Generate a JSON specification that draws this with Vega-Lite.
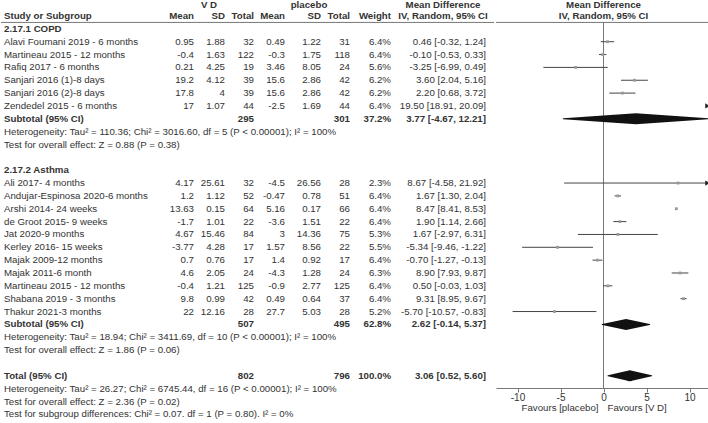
{
  "$schema": "https://vega.github.io/schema/vega-lite/v6.json",
  "padding": 0,
  "spacing": 0,
  "background": "white",
  "config": {
    "view": {"stroke": null},
    "text": {"font": "Liberation Sans", "fontSize": 9.7, "color": "#333"}
  },
  "datasets": {
    "rows": [
      {"r": 2, "study": "Alavi Foumani 2019 - 6 months", "m1": 0.95, "sd1": 1.88, "n1": 32, "m2": 0.49, "sd2": 1.22, "n2": 31, "w": "6.4%", "md": "0.46 [-0.32, 1.24]", "est": 0.46, "lo": -0.32, "hi": 1.24},
      {"r": 3, "study": "Martineau 2015 - 12 months", "m1": -0.4, "sd1": 1.63, "n1": 122, "m2": -0.3, "sd2": 1.75, "n2": 118, "w": "6.4%", "md": "-0.10 [-0.53, 0.33]", "est": -0.1, "lo": -0.53, "hi": 0.33},
      {"r": 4, "study": "Rafiq 2017 - 6 months", "m1": 0.21, "sd1": 4.25, "n1": 19, "m2": 3.46, "sd2": 8.05, "n2": 24, "w": "5.6%", "md": "-3.25 [-6.99, 0.49]", "est": -3.25, "lo": -6.99, "hi": 0.49},
      {"r": 5, "study": "Sanjari 2016 (1)-8 days", "m1": 19.2, "sd1": 4.12, "n1": 39, "m2": 15.6, "sd2": 2.86, "n2": 42, "w": "6.2%", "md": "3.60 [2.04, 5.16]", "est": 3.6, "lo": 2.04, "hi": 5.16},
      {"r": 6, "study": "Sanjari 2016 (2)-8 days", "m1": 17.8, "sd1": 4, "n1": 39, "m2": 15.6, "sd2": 2.86, "n2": 42, "w": "6.2%", "md": "2.20 [0.68, 3.72]", "est": 2.2, "lo": 0.68, "hi": 3.72},
      {"r": 7, "study": "Zendedel 2015 - 6 months", "m1": 17, "sd1": 1.07, "n1": 44, "m2": -2.5, "sd2": 1.69, "n2": 44, "w": "6.4%", "md": "19.50 [18.91, 20.09]", "est": 19.5, "lo": 18.91, "hi": 20.09},
      {"r": 13, "study": "Ali 2017- 4 months", "m1": 4.17, "sd1": 25.61, "n1": 32, "m2": -4.5, "sd2": 26.56, "n2": 28, "w": "2.3%", "md": "8.67 [-4.58, 21.92]", "est": 8.67, "lo": -4.58, "hi": 21.92},
      {"r": 14, "study": "Andujar-Espinosa 2020-6 months", "m1": 1.2, "sd1": 1.12, "n1": 52, "m2": -0.47, "sd2": 0.78, "n2": 51, "w": "6.4%", "md": "1.67 [1.30, 2.04]", "est": 1.67, "lo": 1.3, "hi": 2.04},
      {"r": 15, "study": "Arshi 2014- 24 weeks", "m1": 13.63, "sd1": 0.15, "n1": 64, "m2": 5.16, "sd2": 0.17, "n2": 66, "w": "6.4%", "md": "8.47 [8.41, 8.53]", "est": 8.47, "lo": 8.41, "hi": 8.53},
      {"r": 16, "study": "de Groot 2015- 9 weeks", "m1": -1.7, "sd1": 1.01, "n1": 22, "m2": -3.6, "sd2": 1.51, "n2": 22, "w": "6.4%", "md": "1.90 [1.14, 2.66]", "est": 1.9, "lo": 1.14, "hi": 2.66},
      {"r": 17, "study": "Jat 2020-9 months", "m1": 4.67, "sd1": 15.46, "n1": 84, "m2": 3, "sd2": 14.36, "n2": 75, "w": "5.3%", "md": "1.67 [-2.97, 6.31]", "est": 1.67, "lo": -2.97, "hi": 6.31},
      {"r": 18, "study": "Kerley 2016- 15 weeks", "m1": -3.77, "sd1": 4.28, "n1": 17, "m2": 1.57, "sd2": 8.56, "n2": 22, "w": "5.5%", "md": "-5.34 [-9.46, -1.22]", "est": -5.34, "lo": -9.46, "hi": -1.22},
      {"r": 19, "study": "Majak 2009-12 months", "m1": 0.7, "sd1": 0.76, "n1": 17, "m2": 1.4, "sd2": 0.92, "n2": 17, "w": "6.4%", "md": "-0.70 [-1.27, -0.13]", "est": -0.7, "lo": -1.27, "hi": -0.13},
      {"r": 20, "study": "Majak 2011-6 month", "m1": 4.6, "sd1": 2.05, "n1": 24, "m2": -4.3, "sd2": 1.28, "n2": 24, "w": "6.3%", "md": "8.90 [7.93, 9.87]", "est": 8.9, "lo": 7.93, "hi": 9.87},
      {"r": 21, "study": "Martineau 2015 - 12 months", "m1": -0.4, "sd1": 1.21, "n1": 125, "m2": -0.9, "sd2": 2.77, "n2": 125, "w": "6.4%", "md": "0.50 [-0.03, 1.03]", "est": 0.5, "lo": -0.03, "hi": 1.03},
      {"r": 22, "study": "Shabana 2019 - 3 months", "m1": 9.8, "sd1": 0.99, "n1": 42, "m2": 0.49, "sd2": 0.64, "n2": 37, "w": "6.4%", "md": "9.31 [8.95, 9.67]", "est": 9.31, "lo": 8.95, "hi": 9.67},
      {"r": 23, "study": "Thakur 2021-3 months", "m1": 22, "sd1": 12.16, "n1": 28, "m2": 27.7, "sd2": 5.03, "n2": 28, "w": "5.2%", "md": "-5.70 [-10.57, -0.83]", "est": -5.7, "lo": -10.57, "hi": -0.83}
    ],
    "totals": [
      {"r": 8, "label": "Subtotal (95% CI)", "n1": 295, "n2": 301, "w": "37.2%", "md": "3.77 [-4.67, 12.21]", "est": 3.77, "lo": -4.67, "hi": 12.21},
      {"r": 24, "label": "Subtotal (95% CI)", "n1": 507, "n2": 495, "w": "62.8%", "md": "2.62 [-0.14, 5.37]", "est": 2.62, "lo": -0.14, "hi": 5.37},
      {"r": 28, "label": "Total (95% CI)", "n1": 802, "n2": 796, "w": "100.0%", "md": "3.06 [0.52, 5.60]", "est": 3.06, "lo": 0.52, "hi": 5.6}
    ],
    "notes": [
      {"r": 9, "text": "Heterogeneity: Tau² = 110.36; Chi² = 3016.60, df = 5 (P < 0.00001); I² = 100%"},
      {"r": 10, "text": "Test for overall effect: Z = 0.88 (P = 0.38)"},
      {"r": 25, "text": "Heterogeneity: Tau² = 18.94; Chi² = 3411.69, df = 10 (P < 0.00001); I² = 100%"},
      {"r": 26, "text": "Test for overall effect: Z = 1.86 (P = 0.06)"},
      {"r": 29, "text": "Heterogeneity: Tau² = 26.27; Chi² = 6745.44, df = 16 (P < 0.00001); I² = 100%"},
      {"r": 30, "text": "Test for overall effect: Z = 2.36 (P = 0.02)"},
      {"r": 31, "text": "Test for subgroup differences: Chi² = 0.07. df = 1 (P = 0.80). I² = 0%"}
    ],
    "groups": [
      {"r": 1, "text": "2.17.1 COPD"},
      {"r": 12, "text": "2.17.2 Asthma"}
    ]
  },
  "hconcat": [
    {
      "width": 493,
      "height": 423,
      "layer": [
        {"data": {"values": [{}]}, "mark": {"type": "rule", "color": "#777", "strokeWidth": 1},
         "encoding": {"x": {"datum": 0, "type": "quantitative", "scale": {"domain": [0, 493], "nice": false, "zero": false}, "axis": null},
                      "x2": {"datum": 493},
                      "y": {"datum": 0.5, "type": "quantitative", "scale": {"domain": [-1.245, 31.67], "reverse": true, "nice": false, "zero": false}, "axis": null}}},
        {"data": {"values": [{"t": "V D"}]}, "mark": {"type": "text", "align": "center", "fontWeight": "bold"},
         "encoding": {"x": {"datum": 208, "type": "quantitative", "scale": {"domain": [0, 493], "nice": false, "zero": false}, "axis": null},
                      "y": {"datum": -0.85, "type": "quantitative", "scale": {"domain": [-1.245, 31.67], "reverse": true, "nice": false, "zero": false}, "axis": null},
                      "text": {"field": "t", "type": "nominal"}}},
        {"data": {"values": [{"t": "placebo"}]}, "mark": {"type": "text", "align": "center", "fontWeight": "bold"},
         "encoding": {"x": {"datum": 308, "type": "quantitative", "scale": {"domain": [0, 493], "nice": false, "zero": false}, "axis": null},
                      "y": {"datum": -0.85, "type": "quantitative", "scale": {"domain": [-1.245, 31.67], "reverse": true, "nice": false, "zero": false}, "axis": null},
                      "text": {"field": "t", "type": "nominal"}}},
        {"data": {"values": [{"t": "Mean Difference"}]}, "mark": {"type": "text", "align": "center", "fontWeight": "bold"},
         "encoding": {"x": {"datum": 442, "type": "quantitative", "scale": {"domain": [0, 493], "nice": false, "zero": false}, "axis": null},
                      "y": {"datum": -0.85, "type": "quantitative", "scale": {"domain": [-1.245, 31.67], "reverse": true, "nice": false, "zero": false}, "axis": null},
                      "text": {"field": "t", "type": "nominal"}}},
        {"data": {"values": [{"t": "Study or Subgroup"}]}, "mark": {"type": "text", "align": "left", "fontWeight": "bold"},
         "encoding": {"x": {"datum": 3, "type": "quantitative", "scale": {"domain": [0, 493], "nice": false, "zero": false}, "axis": null},
                      "y": {"datum": 0, "type": "quantitative", "scale": {"domain": [-1.245, 31.67], "reverse": true, "nice": false, "zero": false}, "axis": null},
                      "text": {"field": "t", "type": "nominal"}}},
        {"data": {"values": [{"t": "Mean"}]}, "mark": {"type": "text", "align": "right", "fontWeight": "bold"},
         "encoding": {"x": {"datum": 193, "type": "quantitative", "scale": {"domain": [0, 493], "nice": false, "zero": false}, "axis": null},
                      "y": {"datum": 0, "type": "quantitative", "scale": {"domain": [-1.245, 31.67], "reverse": true, "nice": false, "zero": false}, "axis": null},
                      "text": {"field": "t", "type": "nominal"}}},
        {"data": {"values": [{"t": "SD"}]}, "mark": {"type": "text", "align": "right", "fontWeight": "bold"},
         "encoding": {"x": {"datum": 224, "type": "quantitative", "scale": {"domain": [0, 493], "nice": false, "zero": false}, "axis": null},
                      "y": {"datum": 0, "type": "quantitative", "scale": {"domain": [-1.245, 31.67], "reverse": true, "nice": false, "zero": false}, "axis": null},
                      "text": {"field": "t", "type": "nominal"}}},
        {"data": {"values": [{"t": "Total"}]}, "mark": {"type": "text", "align": "right", "fontWeight": "bold"},
         "encoding": {"x": {"datum": 253, "type": "quantitative", "scale": {"domain": [0, 493], "nice": false, "zero": false}, "axis": null},
                      "y": {"datum": 0, "type": "quantitative", "scale": {"domain": [-1.245, 31.67], "reverse": true, "nice": false, "zero": false}, "axis": null},
                      "text": {"field": "t", "type": "nominal"}}},
        {"data": {"values": [{"t": "Mean"}]}, "mark": {"type": "text", "align": "right", "fontWeight": "bold"},
         "encoding": {"x": {"datum": 284, "type": "quantitative", "scale": {"domain": [0, 493], "nice": false, "zero": false}, "axis": null},
                      "y": {"datum": 0, "type": "quantitative", "scale": {"domain": [-1.245, 31.67], "reverse": true, "nice": false, "zero": false}, "axis": null},
                      "text": {"field": "t", "type": "nominal"}}},
        {"data": {"values": [{"t": "SD"}]}, "mark": {"type": "text", "align": "right", "fontWeight": "bold"},
         "encoding": {"x": {"datum": 320, "type": "quantitative", "scale": {"domain": [0, 493], "nice": false, "zero": false}, "axis": null},
                      "y": {"datum": 0, "type": "quantitative", "scale": {"domain": [-1.245, 31.67], "reverse": true, "nice": false, "zero": false}, "axis": null},
                      "text": {"field": "t", "type": "nominal"}}},
        {"data": {"values": [{"t": "Total"}]}, "mark": {"type": "text", "align": "right", "fontWeight": "bold"},
         "encoding": {"x": {"datum": 349, "type": "quantitative", "scale": {"domain": [0, 493], "nice": false, "zero": false}, "axis": null},
                      "y": {"datum": 0, "type": "quantitative", "scale": {"domain": [-1.245, 31.67], "reverse": true, "nice": false, "zero": false}, "axis": null},
                      "text": {"field": "t", "type": "nominal"}}},
        {"data": {"values": [{"t": "Weight"}]}, "mark": {"type": "text", "align": "right", "fontWeight": "bold"},
         "encoding": {"x": {"datum": 390, "type": "quantitative", "scale": {"domain": [0, 493], "nice": false, "zero": false}, "axis": null},
                      "y": {"datum": 0, "type": "quantitative", "scale": {"domain": [-1.245, 31.67], "reverse": true, "nice": false, "zero": false}, "axis": null},
                      "text": {"field": "t", "type": "nominal"}}},
        {"data": {"values": [{"t": "IV, Random, 95% CI"}]}, "mark": {"type": "text", "align": "center", "fontWeight": "bold"},
         "encoding": {"x": {"datum": 442, "type": "quantitative", "scale": {"domain": [0, 493], "nice": false, "zero": false}, "axis": null},
                      "y": {"datum": 0, "type": "quantitative", "scale": {"domain": [-1.245, 31.67], "reverse": true, "nice": false, "zero": false}, "axis": null},
                      "text": {"field": "t", "type": "nominal"}}},
        {"data": {"name": "groups"}, "mark": {"type": "text", "align": "left", "fontWeight": "bold"},
         "encoding": {"x": {"datum": 3, "type": "quantitative", "scale": {"domain": [0, 493], "nice": false, "zero": false}, "axis": null},
                      "y": {"field": "r", "type": "quantitative", "scale": {"domain": [-1.245, 31.67], "reverse": true, "nice": false, "zero": false}, "axis": null},
                      "text": {"field": "text", "type": "nominal"}}},
        {"data": {"name": "notes"}, "mark": {"type": "text", "align": "left"},
         "encoding": {"x": {"datum": 3, "type": "quantitative", "scale": {"domain": [0, 493], "nice": false, "zero": false}, "axis": null},
                      "y": {"field": "r", "type": "quantitative", "scale": {"domain": [-1.245, 31.67], "reverse": true, "nice": false, "zero": false}, "axis": null},
                      "text": {"field": "text", "type": "nominal"}}},
        {"data": {"name": "rows"}, "mark": {"type": "text", "align": "left"},
         "encoding": {"x": {"datum": 3, "type": "quantitative", "scale": {"domain": [0, 493], "nice": false, "zero": false}, "axis": null},
                      "y": {"field": "r", "type": "quantitative", "scale": {"domain": [-1.245, 31.67], "reverse": true, "nice": false, "zero": false}, "axis": null},
                      "text": {"field": "study", "type": "nominal"}}},
        {"data": {"name": "rows"}, "mark": {"type": "text", "align": "right"},
         "encoding": {"x": {"datum": 193, "type": "quantitative", "scale": {"domain": [0, 493], "nice": false, "zero": false}, "axis": null},
                      "y": {"field": "r", "type": "quantitative", "scale": {"domain": [-1.245, 31.67], "reverse": true, "nice": false, "zero": false}, "axis": null},
                      "text": {"field": "m1", "type": "nominal"}}},
        {"data": {"name": "rows"}, "mark": {"type": "text", "align": "right"},
         "encoding": {"x": {"datum": 224, "type": "quantitative", "scale": {"domain": [0, 493], "nice": false, "zero": false}, "axis": null},
                      "y": {"field": "r", "type": "quantitative", "scale": {"domain": [-1.245, 31.67], "reverse": true, "nice": false, "zero": false}, "axis": null},
                      "text": {"field": "sd1", "type": "nominal"}}},
        {"data": {"name": "rows"}, "mark": {"type": "text", "align": "right"},
         "encoding": {"x": {"datum": 253, "type": "quantitative", "scale": {"domain": [0, 493], "nice": false, "zero": false}, "axis": null},
                      "y": {"field": "r", "type": "quantitative", "scale": {"domain": [-1.245, 31.67], "reverse": true, "nice": false, "zero": false}, "axis": null},
                      "text": {"field": "n1", "type": "nominal"}}},
        {"data": {"name": "rows"}, "mark": {"type": "text", "align": "right"},
         "encoding": {"x": {"datum": 284, "type": "quantitative", "scale": {"domain": [0, 493], "nice": false, "zero": false}, "axis": null},
                      "y": {"field": "r", "type": "quantitative", "scale": {"domain": [-1.245, 31.67], "reverse": true, "nice": false, "zero": false}, "axis": null},
                      "text": {"field": "m2", "type": "nominal"}}},
        {"data": {"name": "rows"}, "mark": {"type": "text", "align": "right"},
         "encoding": {"x": {"datum": 320, "type": "quantitative", "scale": {"domain": [0, 493], "nice": false, "zero": false}, "axis": null},
                      "y": {"field": "r", "type": "quantitative", "scale": {"domain": [-1.245, 31.67], "reverse": true, "nice": false, "zero": false}, "axis": null},
                      "text": {"field": "sd2", "type": "nominal"}}},
        {"data": {"name": "rows"}, "mark": {"type": "text", "align": "right"},
         "encoding": {"x": {"datum": 349, "type": "quantitative", "scale": {"domain": [0, 493], "nice": false, "zero": false}, "axis": null},
                      "y": {"field": "r", "type": "quantitative", "scale": {"domain": [-1.245, 31.67], "reverse": true, "nice": false, "zero": false}, "axis": null},
                      "text": {"field": "n2", "type": "nominal"}}},
        {"data": {"name": "rows"}, "mark": {"type": "text", "align": "right"},
         "encoding": {"x": {"datum": 390, "type": "quantitative", "scale": {"domain": [0, 493], "nice": false, "zero": false}, "axis": null},
                      "y": {"field": "r", "type": "quantitative", "scale": {"domain": [-1.245, 31.67], "reverse": true, "nice": false, "zero": false}, "axis": null},
                      "text": {"field": "w", "type": "nominal"}}},
        {"data": {"name": "rows"}, "mark": {"type": "text", "align": "right"},
         "encoding": {"x": {"datum": 485, "type": "quantitative", "scale": {"domain": [0, 493], "nice": false, "zero": false}, "axis": null},
                      "y": {"field": "r", "type": "quantitative", "scale": {"domain": [-1.245, 31.67], "reverse": true, "nice": false, "zero": false}, "axis": null},
                      "text": {"field": "md", "type": "nominal"}}},
        {"data": {"name": "totals"}, "mark": {"type": "text", "align": "left", "fontWeight": "bold"},
         "encoding": {"x": {"datum": 3, "type": "quantitative", "scale": {"domain": [0, 493], "nice": false, "zero": false}, "axis": null},
                      "y": {"field": "r", "type": "quantitative", "scale": {"domain": [-1.245, 31.67], "reverse": true, "nice": false, "zero": false}, "axis": null},
                      "text": {"field": "label", "type": "nominal"}}},
        {"data": {"name": "totals"}, "mark": {"type": "text", "align": "right", "fontWeight": "bold"},
         "encoding": {"x": {"datum": 253, "type": "quantitative", "scale": {"domain": [0, 493], "nice": false, "zero": false}, "axis": null},
                      "y": {"field": "r", "type": "quantitative", "scale": {"domain": [-1.245, 31.67], "reverse": true, "nice": false, "zero": false}, "axis": null},
                      "text": {"field": "n1", "type": "nominal"}}},
        {"data": {"name": "totals"}, "mark": {"type": "text", "align": "right", "fontWeight": "bold"},
         "encoding": {"x": {"datum": 349, "type": "quantitative", "scale": {"domain": [0, 493], "nice": false, "zero": false}, "axis": null},
                      "y": {"field": "r", "type": "quantitative", "scale": {"domain": [-1.245, 31.67], "reverse": true, "nice": false, "zero": false}, "axis": null},
                      "text": {"field": "n2", "type": "nominal"}}},
        {"data": {"name": "totals"}, "mark": {"type": "text", "align": "right", "fontWeight": "bold"},
         "encoding": {"x": {"datum": 390, "type": "quantitative", "scale": {"domain": [0, 493], "nice": false, "zero": false}, "axis": null},
                      "y": {"field": "r", "type": "quantitative", "scale": {"domain": [-1.245, 31.67], "reverse": true, "nice": false, "zero": false}, "axis": null},
                      "text": {"field": "w", "type": "nominal"}}},
        {"data": {"name": "totals"}, "mark": {"type": "text", "align": "right", "fontWeight": "bold"},
         "encoding": {"x": {"datum": 485, "type": "quantitative", "scale": {"domain": [0, 493], "nice": false, "zero": false}, "axis": null},
                      "y": {"field": "r", "type": "quantitative", "scale": {"domain": [-1.245, 31.67], "reverse": true, "nice": false, "zero": false}, "axis": null},
                      "text": {"field": "md", "type": "nominal"}}}
      ]
    },
    {
      "width": 215,
      "height": 388,
      "layer": [
        {"data": {"values": [{}]}, "mark": {"type": "rule", "color": "#777", "strokeWidth": 1},
         "encoding": {"x": {"datum": -12.5, "type": "quantitative", "scale": {"domain": [-12.5, 12.5], "nice": false, "zero": false},
                            "axis": {"values": [-10, -5, 0, 5, 10], "title": null, "grid": false, "tickSize": 4, "labelExpr": "'' + datum.value", "domainColor": "#777", "tickColor": "#777", "labelColor": "#333", "labelFont": "Liberation Sans", "labelFontSize": 10, "labelPadding": 0}},
                      "x2": {"datum": 12.5},
                      "y": {"datum": 0.5, "type": "quantitative", "scale": {"domain": [-1.245, 28.95], "reverse": true, "nice": false, "zero": false}, "axis": null}}},
        {"data": {"values": [{}]}, "mark": {"type": "rule", "color": "#777", "strokeWidth": 1},
         "encoding": {"x": {"datum": 0, "type": "quantitative", "scale": {"domain": [-12.5, 12.5], "nice": false, "zero": false},
                            "axis": {"values": [-10, -5, 0, 5, 10], "title": null, "grid": false, "tickSize": 4, "labelExpr": "'' + datum.value", "domainColor": "#777", "tickColor": "#777", "labelColor": "#333", "labelFont": "Liberation Sans", "labelFontSize": 10, "labelPadding": 0}},
                      "y": {"datum": 0.5, "type": "quantitative", "scale": {"domain": [-1.245, 28.95], "reverse": true, "nice": false, "zero": false}, "axis": null},
                      "y2": {"datum": 28.95}}},
        {"data": {"values": [{"t": "Mean Difference"}]}, "mark": {"type": "text", "align": "center", "fontWeight": "bold"},
         "encoding": {"x": {"datum": 0, "type": "quantitative", "scale": {"domain": [-12.5, 12.5], "nice": false, "zero": false},
                            "axis": {"values": [-10, -5, 0, 5, 10], "title": null, "grid": false, "tickSize": 4, "labelExpr": "'' + datum.value", "domainColor": "#777", "tickColor": "#777", "labelColor": "#333", "labelFont": "Liberation Sans", "labelFontSize": 10, "labelPadding": 0}},
                      "y": {"datum": -0.85, "type": "quantitative", "scale": {"domain": [-1.245, 28.95], "reverse": true, "nice": false, "zero": false}, "axis": null},
                      "text": {"field": "t", "type": "nominal"}}},
        {"data": {"values": [{"t": "IV, Random, 95% CI"}]}, "mark": {"type": "text", "align": "center", "fontWeight": "bold"},
         "encoding": {"x": {"datum": 0, "type": "quantitative", "scale": {"domain": [-12.5, 12.5], "nice": false, "zero": false},
                            "axis": {"values": [-10, -5, 0, 5, 10], "title": null, "grid": false, "tickSize": 4, "labelExpr": "'' + datum.value", "domainColor": "#777", "tickColor": "#777", "labelColor": "#333", "labelFont": "Liberation Sans", "labelFontSize": 10, "labelPadding": 0}},
                      "y": {"datum": 0, "type": "quantitative", "scale": {"domain": [-1.245, 28.95], "reverse": true, "nice": false, "zero": false}, "axis": null},
                      "text": {"field": "t", "type": "nominal"}}},
        {"data": {"name": "rows"}, "mark": {"type": "rule", "color": "#444", "strokeWidth": 1, "clip": true},
         "encoding": {"x": {"field": "lo", "type": "quantitative", "scale": {"domain": [-12.5, 12.5], "nice": false, "zero": false},
                            "axis": {"values": [-10, -5, 0, 5, 10], "title": null, "grid": false, "tickSize": 4, "labelExpr": "'' + datum.value", "domainColor": "#777", "tickColor": "#777", "labelColor": "#333", "labelFont": "Liberation Sans", "labelFontSize": 10, "labelPadding": 0}},
                      "x2": {"field": "hi"},
                      "y": {"field": "r", "type": "quantitative", "scale": {"domain": [-1.245, 28.95], "reverse": true, "nice": false, "zero": false}, "axis": null}}},
        {"data": {"name": "rows"}, "mark": {"type": "point", "shape": "square", "filled": true, "color": "#999", "opacity": 1, "size": 8, "clip": true},
         "encoding": {"x": {"field": "est", "type": "quantitative", "scale": {"domain": [-12.5, 12.5], "nice": false, "zero": false},
                            "axis": {"values": [-10, -5, 0, 5, 10], "title": null, "grid": false, "tickSize": 4, "labelExpr": "'' + datum.value", "domainColor": "#777", "tickColor": "#777", "labelColor": "#333", "labelFont": "Liberation Sans", "labelFontSize": 10, "labelPadding": 0}},
                      "y": {"field": "r", "type": "quantitative", "scale": {"domain": [-1.245, 28.95], "reverse": true, "nice": false, "zero": false}, "axis": null}}},
        {"data": {"name": "rows"}, "transform": [{"filter": "datum.hi > 12.5"}],
         "mark": {"type": "point", "shape": "triangle-right", "filled": true, "color": "#222", "opacity": 1, "size": 28},
         "encoding": {"x": {"datum": 12.1, "type": "quantitative", "scale": {"domain": [-12.5, 12.5], "nice": false, "zero": false},
                            "axis": {"values": [-10, -5, 0, 5, 10], "title": null, "grid": false, "tickSize": 4, "labelExpr": "'' + datum.value", "domainColor": "#777", "tickColor": "#777", "labelColor": "#333", "labelFont": "Liberation Sans", "labelFontSize": 10, "labelPadding": 0}},
                      "y": {"field": "r", "type": "quantitative", "scale": {"domain": [-1.245, 28.95], "reverse": true, "nice": false, "zero": false}, "axis": null}}},
        {"data": {"name": "totals"}, "transform": [{"fold": ["lo", "est", "hi"], "as": ["k", "v"]}],
         "mark": {"type": "trail", "color": "#111"},
         "encoding": {"x": {"field": "v", "type": "quantitative", "scale": {"domain": [-12.5, 12.5], "nice": false, "zero": false},
                            "axis": {"values": [-10, -5, 0, 5, 10], "title": null, "grid": false, "tickSize": 4, "labelExpr": "'' + datum.value", "domainColor": "#777", "tickColor": "#777", "labelColor": "#333", "labelFont": "Liberation Sans", "labelFontSize": 10, "labelPadding": 0}},
                      "y": {"field": "r", "type": "quantitative", "scale": {"domain": [-1.245, 28.95], "reverse": true, "nice": false, "zero": false}, "axis": null},
                      "detail": {"field": "r", "type": "nominal"},
                      "order": {"field": "v", "type": "quantitative"},
                      "size": {"condition": {"test": "datum.k === 'est'", "value": 11}, "value": 0}}},
        {"data": {"values": [{"t": "Favours [placebo]"}]}, "mark": {"type": "text", "align": "right", "dx": -5, "fontSize": 9.7},
         "encoding": {"x": {"datum": 0, "type": "quantitative", "scale": {"domain": [-12.5, 12.5], "nice": false, "zero": false},
                            "axis": {"values": [-10, -5, 0, 5, 10], "title": null, "grid": false, "tickSize": 4, "labelExpr": "'' + datum.value", "domainColor": "#777", "tickColor": "#777", "labelColor": "#333", "labelFont": "Liberation Sans", "labelFontSize": 10, "labelPadding": 0}},
                      "y": {"datum": 30.5, "type": "quantitative", "scale": {"domain": [-1.245, 28.95], "reverse": true, "nice": false, "zero": false}, "axis": null},
                      "text": {"field": "t", "type": "nominal"}}},
        {"data": {"values": [{"t": "Favours [V D]"}]}, "mark": {"type": "text", "align": "left", "dx": 4, "fontSize": 9.7},
         "encoding": {"x": {"datum": 0, "type": "quantitative", "scale": {"domain": [-12.5, 12.5], "nice": false, "zero": false},
                            "axis": {"values": [-10, -5, 0, 5, 10], "title": null, "grid": false, "tickSize": 4, "labelExpr": "'' + datum.value", "domainColor": "#777", "tickColor": "#777", "labelColor": "#333", "labelFont": "Liberation Sans", "labelFontSize": 10, "labelPadding": 0}},
                      "y": {"datum": 30.5, "type": "quantitative", "scale": {"domain": [-1.245, 28.95], "reverse": true, "nice": false, "zero": false}, "axis": null},
                      "text": {"field": "t", "type": "nominal"}}}
      ]
    }
  ]
}
